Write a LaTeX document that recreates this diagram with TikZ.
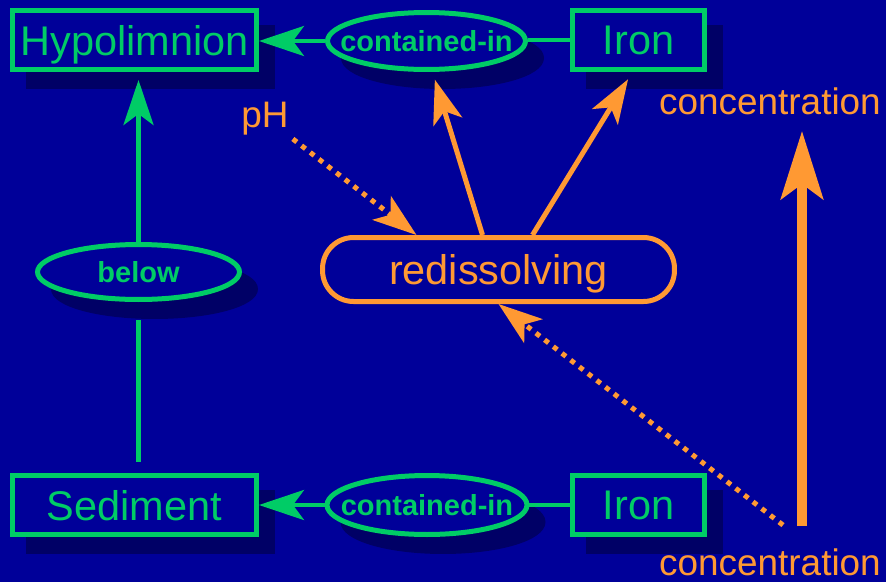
\documentclass[tikz,border=0pt]{standalone}
\usepackage{fontspec}
\setmainfont{Liberation Sans}
\usetikzlibrary{arrows.meta, positioning, calc, shadows, shapes.geometric}
\definecolor{lakeblue}{HTML}{000099}
\definecolor{lakeshadow}{HTML}{000066}
\definecolor{cggreen}{HTML}{00CC66}
\definecolor{cgorange}{HTML}{FF9933}

\tikzset{
  lakeshade/.style={drop shadow={shadow xshift=0.32cm, shadow yshift=-0.34cm,
        fill=lakeshadow, draw=lakeshadow, line width=0.1cm, opacity=1}},
  concept/.style={draw=cggreen, line width=0.1cm, fill=lakeblue, text=cggreen,
        inner sep=0pt, minimum height=1.18cm, text depth=0pt,
        font=\fontsize{23.6}{28}\selectfont, lakeshade},
  relation/.style={ellipse, draw=cggreen, line width=0.1cm, fill=lakeblue, text=cggreen,
        inner sep=0pt, text depth=0pt, font=\bfseries\fontsize{16.5}{20}\selectfont, lakeshade},
  process/.style={draw=cgorange, line width=0.1cm, rounded corners=0.62cm, text=cgorange,
        inner sep=0pt, text depth=0pt, minimum width=7.04cm, minimum height=1.28cm,
        font=\fontsize{23.6}{28}\selectfont},
  attr/.style={text=cgorange, inner sep=0pt, font=\fontsize{21}{25}\selectfont},
  glink/.style={draw=cggreen, line width=0.09cm},
  garrow/.style={glink, -{Stealth[length=0.9cm, width=0.6cm, inset=0.22cm]}},
  oarrow/.style={draw=cgorange, line width=0.1cm, -{Stealth[length=0.88cm, width=0.6cm, inset=0.22cm]}},
  odots/.style={oarrow, dash pattern=on 0.1cm off 0.12cm},
}

\begin{document}
\begin{tikzpicture}[x=0.02cm, y=-0.02cm]
  \fill[lakeblue] (0,0) rectangle (886,582);
  \useasboundingbox (0,0) rectangle (886,582);

  \node[concept, minimum width=4.88cm] (hypo) at (134.5,40) {Hypolimnion};
  \node[relation, minimum width=3.96cm, minimum height=1.14cm] (cintop) at (426.5,41)
        {\makebox[0pt]{contained-in}};
  \node[concept, minimum width=2.64cm] (irontop) at (638.5,40) {Iron};
  \node[relation, minimum width=4.04cm, minimum height=1.1cm] (below) at (138.5,272)
        {\makebox[0pt]{below}};
  \node[concept, minimum width=4.88cm] (sed) at (134.5,505) {Sediment};
  \node[relation, minimum width=4cm, minimum height=1.18cm] (cinbot) at (427,505)
        {\makebox[0pt]{contained-in}};
  \node[concept, minimum width=2.64cm] (ironbot) at (638.5,505) {Iron};

  \node[process] (redis) at (498.5,269.5) {redissolving};
  \node[attr] (ph) at (265,119) {pH};
  \node[attr] (conctop) at (770,101) {concentration};
  \node[attr] (concbot) at (770,562) {concentration};

  \draw[garrow] (cintop.west) -- (cintop.west -| hypo.east);
  \draw[glink] (irontop.west) -- (irontop.west -| cintop.east);
  \draw[garrow, shorten >=0.16cm] (below.north) -- (below.north |- hypo.south);
  \draw[glink, shorten <=0.36cm, shorten >=0.22cm] (below.south) -- (below.south |- sed.north);
  \draw[garrow] (cinbot.west) -- (cinbot.west -| sed.east);
  \draw[glink] (ironbot.west) -- (ironbot.west -| cinbot.east);

  \draw[oarrow, shorten >=0.16cm] ([xshift=-0.32cm]redis.north) -- ([xshift=0.12cm]cintop.south);
  \draw[oarrow, shorten >=0.17cm] ([xshift=0.68cm]redis.north) -- ([xshift=-0.12cm]irontop.south);
  \draw[odots, shorten <=0.1cm] (ph.south east) -- ([xshift=-1.64cm]redis.north);
  \draw[odots] ([shift={(0.26cm,0.46cm)}]concbot.north) -- (redis.south);
  \draw[cgorange, line width=0.21cm, shorten <=0.44cm, shorten >=0.32cm,
        -{Stealth[length=1.36cm, width=0.84cm, inset=0.3cm]}]
        ([xshift=0.64cm]concbot.north) -- ([xshift=0.64cm]conctop.south);
\end{tikzpicture}
\end{document}
